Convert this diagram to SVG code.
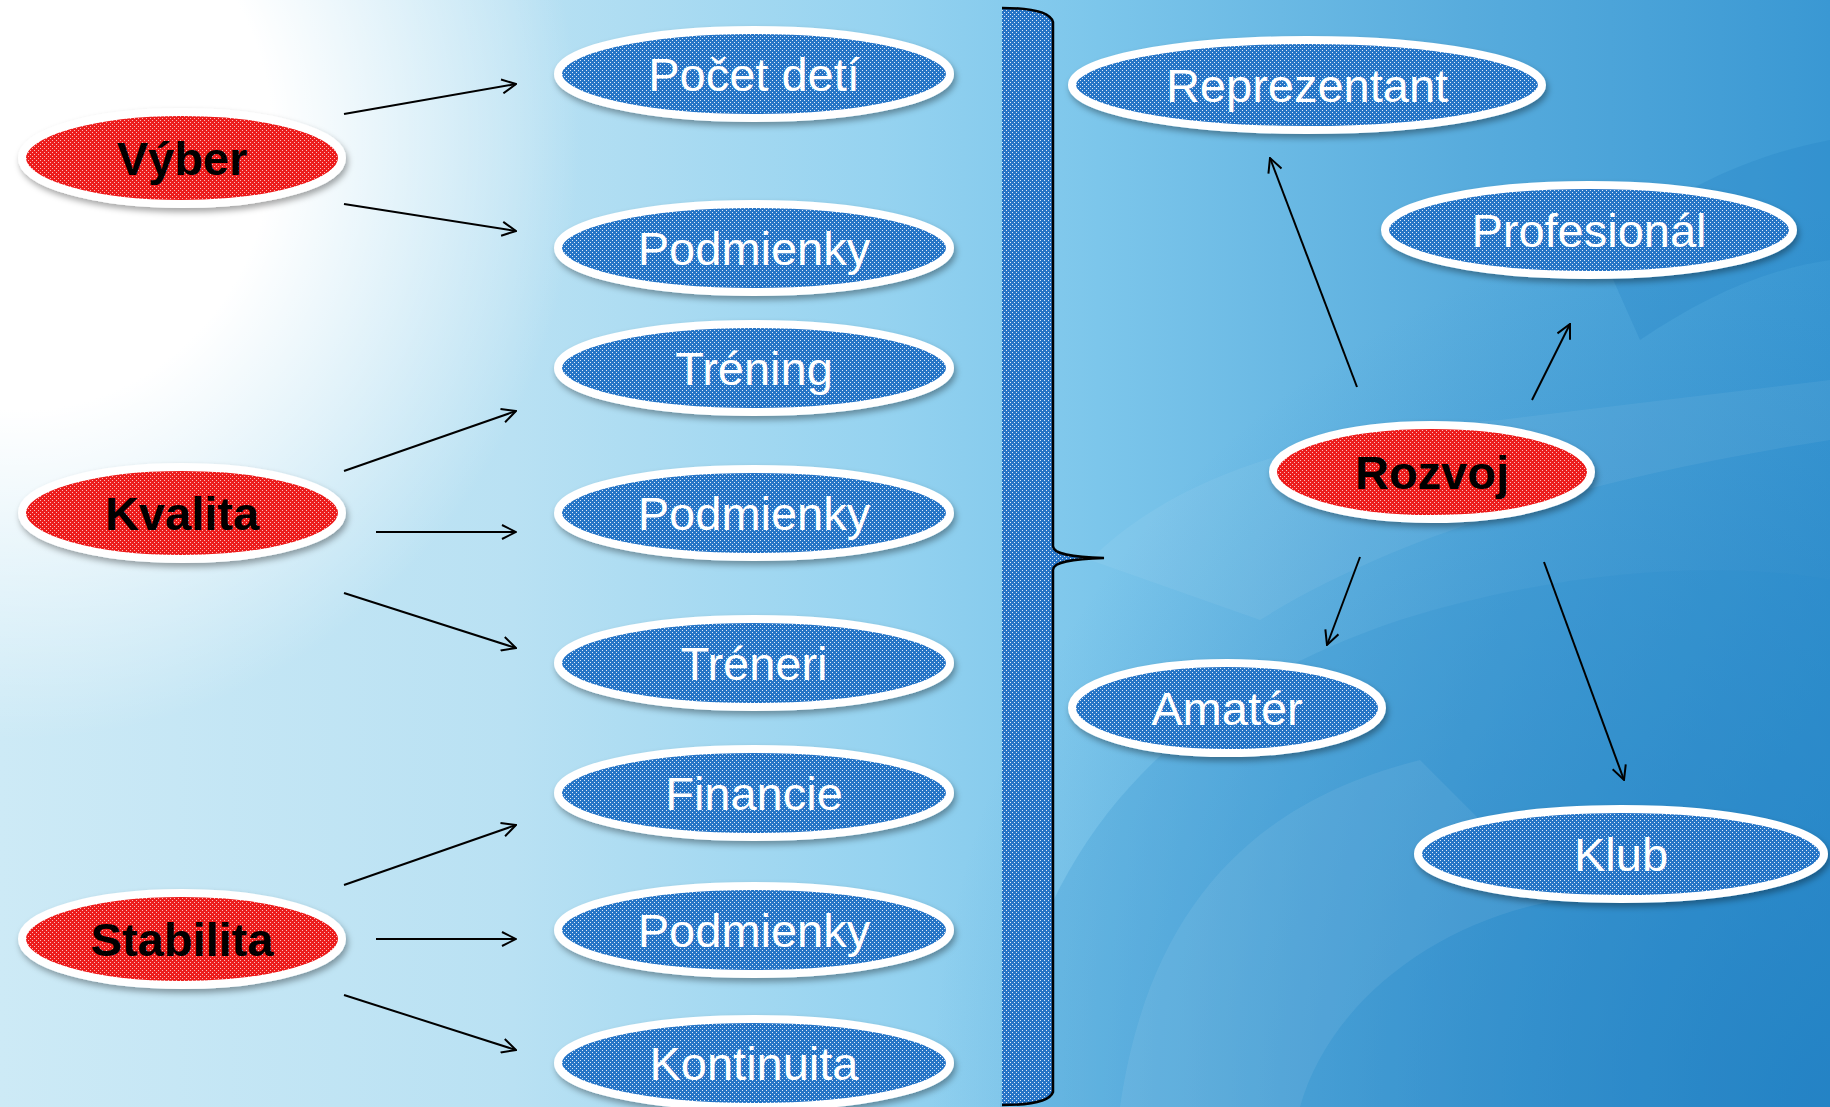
<svg xmlns="http://www.w3.org/2000/svg" width="1830" height="1107" viewBox="0 0 1830 1107">
<defs>
<linearGradient id="bgH" x1="0" y1="0" x2="1830" y2="0" gradientUnits="userSpaceOnUse">
<stop offset="0" stop-color="#cdeaf6"/>
<stop offset="0.28" stop-color="#b9e1f3"/>
<stop offset="0.48" stop-color="#96d3f0"/>
<stop offset="0.6" stop-color="#7cc6eb"/>
<stop offset="0.8" stop-color="#58acdd"/>
<stop offset="1" stop-color="#3a98d3"/>
</linearGradient>
<radialGradient id="bgW" cx="0" cy="0" r="1" gradientUnits="userSpaceOnUse" gradientTransform="translate(20,140) scale(560,600)">
<stop offset="0" stop-color="#ffffff" stop-opacity="1"/>
<stop offset="0.45" stop-color="#ffffff" stop-opacity="1"/>
<stop offset="1" stop-color="#ffffff" stop-opacity="0"/>
</radialGradient>
<radialGradient id="bgD" cx="1830" cy="1107" r="900" gradientUnits="userSpaceOnUse">
<stop offset="0" stop-color="#1b78bd" stop-opacity="0.75"/>
<stop offset="1" stop-color="#1b78bd" stop-opacity="0"/>
</radialGradient>
<pattern id="pb" width="4" height="4" patternUnits="userSpaceOnUse">
<rect width="4" height="4" fill="#2674c6"/>
<rect x="0" y="0" width="1" height="1" fill="#ffffff" fill-opacity="0.85"/>
<rect x="2" y="2" width="1" height="1" fill="#ffffff" fill-opacity="0.85"/>
</pattern>
<pattern id="pr" width="4" height="4" patternUnits="userSpaceOnUse">
<rect width="4" height="4" fill="#ec1c1c"/>
<rect x="0" y="0" width="1" height="1" fill="#ffffff" fill-opacity="0.7"/>
<rect x="2" y="2" width="1" height="1" fill="#ffffff" fill-opacity="0.7"/>
</pattern>
<filter id="sh" x="-10%" y="-30%" width="120%" height="170%">
<feDropShadow dx="2" dy="4" stdDeviation="3" flood-color="#000" flood-opacity="0.35"/>
</filter>
<marker id="ah" viewBox="0 0 16 16" refX="15" refY="8" markerWidth="16" markerHeight="16" markerUnits="userSpaceOnUse" orient="auto">
<path d="M1,1 L15,8 L1,15" fill="none" stroke="#000" stroke-width="2"/>
</marker>
<style>
.bn{fill:url(#pb);stroke:#fff;stroke-width:8;filter:url(#sh)}
.rn{fill:url(#pr);stroke:#fff;stroke-width:8;filter:url(#sh)}
.bt{font-family:"Liberation Sans",Arial,sans-serif;font-size:47px;fill:#fff;text-anchor:middle}
.rt{font-family:"Liberation Sans",Arial,sans-serif;font-size:47px;font-weight:bold;fill:#000;text-anchor:middle}
.cn line{stroke:#000;stroke-width:2;marker-end:url(#ah)}
</style>
</defs>
<g id="background">
<rect width="1830" height="1107" fill="url(#bgH)"/>
<rect width="1830" height="1107" fill="url(#bgD)"/>
<path d="M1000,1107 C1020,860 1160,700 1400,620 C1560,570 1720,560 1830,580 L1830,1107 Z" fill="#2a8ccb" fill-opacity="0.22"/>
<path d="M1090,560 C1180,470 1330,430 1500,420 L1830,380 L1830,440 C1640,470 1420,520 1260,620 Z" fill="#ffffff" fill-opacity="0.06"/>
<path d="M1120,1107 C1150,900 1260,800 1420,760 L1560,900 C1440,920 1330,1000 1300,1107 Z" fill="#ffffff" fill-opacity="0.07"/>
<path d="M1600,250 C1700,170 1780,150 1830,140 L1830,260 C1760,270 1700,300 1640,340 Z" fill="#1f7fc2" fill-opacity="0.25"/>
<rect width="1830" height="1107" fill="url(#bgW)"/>
</g>
<g id="bracket">
<path d="M1002,8 C1030,8 1050,12 1053,22 L1053,546 C1053,554 1070,557 1104,558 C1070,559 1053,562 1053,570 L1053,1092 C1050,1101 1030,1105 1002,1105 Z" fill="url(#pb)"/>
<path d="M1002,8 C1030,8 1050,12 1053,22 L1053,546 C1053,554 1070,557 1104,558 C1070,559 1053,562 1053,570 L1053,1092 C1050,1101 1030,1105 1002,1105" fill="none" stroke="#000" stroke-width="2.5"/>
</g>
<g id="connectors" class="cn">
<line x1="344" y1="114" x2="516" y2="84"/>
<line x1="344" y1="204" x2="516" y2="231"/>
<line x1="344" y1="471" x2="516" y2="411"/>
<line x1="376" y1="532" x2="516" y2="532"/>
<line x1="344" y1="593" x2="516" y2="648"/>
<line x1="344" y1="885" x2="516" y2="825"/>
<line x1="376" y1="939" x2="516" y2="939"/>
<line x1="344" y1="995" x2="516" y2="1050"/>
<line x1="1357" y1="387" x2="1270" y2="158"/>
<line x1="1532" y1="400" x2="1570" y2="324"/>
<line x1="1360" y1="557" x2="1327" y2="645"/>
<line x1="1544" y1="562" x2="1624" y2="780"/>
</g>
<g id="vyber"><ellipse class="rn" cx="182" cy="158" rx="160" ry="46"/><text class="rt" x="182" y="175">Výber</text></g>
<g id="kvalita"><ellipse class="rn" cx="182" cy="513" rx="160" ry="46"/><text class="rt" x="182" y="530">Kvalita</text></g>
<g id="stabilita"><ellipse class="rn" cx="182" cy="939" rx="160" ry="46"/><text class="rt" x="182" y="956">Stabilita</text></g>
<g id="pocet-deti"><ellipse class="bn" cx="754" cy="74" rx="196" ry="44"/><text class="bt" x="754" y="91">Počet detí</text></g>
<g id="podmienky-1"><ellipse class="bn" cx="754" cy="248" rx="196" ry="44"/><text class="bt" x="754" y="265">Podmienky</text></g>
<g id="trening"><ellipse class="bn" cx="754" cy="368" rx="196" ry="44"/><text class="bt" x="754" y="385">Tréning</text></g>
<g id="podmienky-2"><ellipse class="bn" cx="754" cy="513" rx="196" ry="44"/><text class="bt" x="754" y="530">Podmienky</text></g>
<g id="treneri"><ellipse class="bn" cx="754" cy="663" rx="196" ry="44"/><text class="bt" x="754" y="680">Tréneri</text></g>
<g id="financie"><ellipse class="bn" cx="754" cy="793" rx="196" ry="44"/><text class="bt" x="754" y="810">Financie</text></g>
<g id="podmienky-3"><ellipse class="bn" cx="754" cy="930" rx="196" ry="44"/><text class="bt" x="754" y="947">Podmienky</text></g>
<g id="kontinuita"><ellipse class="bn" cx="754" cy="1063" rx="196" ry="44"/><text class="bt" x="754" y="1080">Kontinuita</text></g>
<g id="reprezentant"><ellipse class="bn" cx="1307" cy="85" rx="235" ry="45"/><text class="bt" x="1307" y="102">Reprezentant</text></g>
<g id="profesional"><ellipse class="bn" cx="1589" cy="230" rx="204" ry="45"/><text class="bt" x="1589" y="247">Profesionál</text></g>
<g id="rozvoj"><ellipse class="rn" cx="1432" cy="472" rx="159" ry="47"/><text class="rt" x="1432" y="489">Rozvoj</text></g>
<g id="amater"><ellipse class="bn" cx="1227" cy="708" rx="155" ry="45"/><text class="bt" x="1227" y="725">Amatér</text></g>
<g id="klub"><ellipse class="bn" cx="1621" cy="854" rx="203" ry="45"/><text class="bt" x="1621" y="871">Klub</text></g>
</svg>
